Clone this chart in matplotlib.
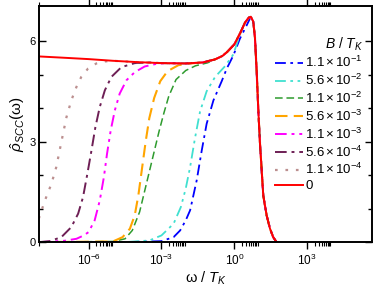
import matplotlib
matplotlib.use("Agg")
import matplotlib.pyplot as plt
import numpy as np
from matplotlib.ticker import FixedLocator, FixedFormatter, NullFormatter

plt.rcParams["font.family"] = ["Liberation Sans", "DejaVu Sans"]
plt.rcParams["mathtext.fontset"] = "custom"
plt.rcParams["mathtext.rm"] = "Liberation Sans"
plt.rcParams["mathtext.it"] = "Liberation Sans:italic"
plt.rcParams["mathtext.bf"] = "Liberation Sans:bold"

# B = 0 curve (log10 of omega / T_K, spectral weight)
red_logw = [-8.05, -7.0, -6.0, -5.0, -4.0, -3.0, -2.0, -1.3, -0.8, -0.5, -0.3,
            0.0, 0.23, 0.44, 0.6, 0.68, 0.78, 0.85, 0.92, 0.99, 1.06, 1.13,
            1.19, 1.33, 1.47, 1.6, 1.74]
red_rho = [5.54, 5.50, 5.46, 5.41, 5.37, 5.34, 5.33, 5.36, 5.45, 5.55, 5.67,
           5.90, 6.22, 6.55, 6.70, 6.72, 6.58, 6.10, 5.10, 3.90, 2.90, 2.10,
           1.40, 0.80, 0.40, 0.15, 0.0]

# finite field curves, low frequency part (they follow B = 0 above)
blue_logw = [-8.05, -4.5, -3.0, -2.5, -2.23, -2.0, -1.82, -1.55, -1.34, -1.14,
             -0.86, -0.52, -0.31, -0.04, 0.23, 0.51, 0.65]
blue_rho = [0.0, 0.0, 0.03, 0.15, 0.35, 0.65, 0.95, 1.84, 2.74, 3.53,
            4.23, 4.80, 5.18, 5.57, 6.07, 6.47, 6.68]

cyan_logw = [-8.05, -4.5, -3.5, -3.0, -2.5, -2.2, -2.0, -1.82, -1.62, -1.41,
             -1.14, -0.79, -0.38, -0.04, 0.23]
cyan_rho = [0.0, 0.0, 0.05, 0.2, 0.55, 1.05, 1.6, 2.24, 3.1, 3.9,
            4.5, 4.93, 5.25, 5.6, 6.2]

green_logw = [-8.05, -5.0, -4.5, -4.2, -3.9, -3.7, -3.5, -3.3, -3.1, -2.9,
              -2.7, -2.4, -2.0, -1.6, -1.1, -0.85]
green_rho = [0.0, 0.02, 0.1, 0.35, 0.9, 1.5, 2.1, 2.7, 3.3, 3.85,
             4.35, 4.85, 5.12, 5.26, 5.35, 5.43]

orange_logw = [-8.05, -5.0, -4.6, -4.3, -4.1, -3.95, -3.8, -3.65, -3.5, -3.3,
               -3.05, -2.75, -2.3, -1.8]
orange_rho = [0.0, 0.02, 0.15, 0.4, 0.8, 1.4, 2.2, 3.0, 3.7, 4.3,
              4.8, 5.1, 5.28, 5.33]

magenta_logw = [-8.05, -7.5, -7.0, -6.5, -6.2, -6.0, -5.75, -5.54, -5.37, -5.24,
                -5.09, -4.92, -4.72, -4.44, -4.1, -3.69, -3.2, -2.8]
magenta_rho = [0.0, 0.02, 0.04, 0.1, 0.2, 0.3, 0.65, 1.24, 1.94, 2.64,
               3.33, 3.93, 4.43, 4.83, 5.07, 5.24, 5.32, 5.34]

purple_logw = [-8.05, -7.6, -7.12, -6.71, -6.43, -6.23, -6.05, -5.88, -5.72,
               -5.54, -5.33, -5.06, -4.65, -4.1, -3.5]
purple_rho = [0.0, 0.03, 0.15, 0.45, 0.85, 1.34, 2.04, 2.74, 3.43,
              4.03, 4.53, 4.93, 5.22, 5.34, 5.36]

brown_logw = [-8.05, -7.8, -7.53, -7.33, -7.19, -7.05, -6.91, -6.71, -6.5,
              -6.3, -6.02, -5.68, -5.33, -5.0]
brown_rho = [0.7, 1.24, 1.74, 2.24, 2.74, 3.24, 3.73, 4.23, 4.63,
             4.93, 5.18, 5.33, 5.39, 5.41]

labels = [r"$1.1\times10^{-1}$", r"$5.6\times10^{-2}$", r"$1.1\times10^{-2}$",
          r"$5.6\times10^{-3}$", r"$1.1\times10^{-3}$", r"$5.6\times10^{-4}$",
          r"$1.1\times10^{-4}$", "0"]

xtick_pos = [1e-6, 1e-3, 1e0, 1e3]
xtick_labels = [r"$10^{-6}$", r"$10^{-3}$", r"$10^{0}$", r"$10^{3}$"]


def with_tail(logw, rho):
    # after the curve joins B = 0, continue along the B = 0 data
    logw = list(logw)
    rho = list(rho)
    for lw, r in zip(red_logw, red_rho):
        if lw > logw[-1]:
            logw.append(lw)
            rho.append(r)
    return 10 ** np.array(logw), np.array(rho)


fig = plt.figure(figsize=(3.74, 2.90), dpi=100)
ax = fig.add_axes([0.104, 0.165, 0.8915, 0.815])

curves = [
    (blue_logw, blue_rho, "#0000ff", (0, (6, 2.5, 1.5, 2.5)), 1.3),
    (cyan_logw, cyan_rho, "#40e0d0", (0, (6, 2.5, 1.5, 2.5, 1.5, 2.5)), 1.3),
    (green_logw, green_rho, "#2e9b2e", (0, (5, 2.5)), 1.1),
    (orange_logw, orange_rho, "#ffa500", (0, (6, 3)), 1.5),
    (magenta_logw, magenta_rho, "#ff00ff", (0, (6, 2.5, 1.5, 2.5, 1.5, 2.5)), 1.4),
    (purple_logw, purple_rho, "#6e1f55", (0, (6, 2.5, 1.5, 2.5)), 1.4),
    (brown_logw, brown_rho, "#bc8f8f", (0, (1.2, 3.5)), 1.6),
]

for (lw_, rho_, color, ls, width), label in zip(curves, labels):
    x, y = with_tail(lw_, rho_)
    ax.plot(x, y, color=color, linestyle=ls, linewidth=width, label=label)

ax.plot(10 ** np.array(red_logw), red_rho, color="#ff0000", linewidth=1.4, label=labels[-1])

# Axes
ax.set_xscale("log")
ax.set_xlim(9e-9, 4.8e5)
ax.set_ylim(0, 7.05)

ax.xaxis.set_major_locator(FixedLocator(xtick_pos))
ax.xaxis.set_major_formatter(FixedFormatter(xtick_labels))
minor = [m * 10.0 ** k for k in (-9, -6, -3, 0, 3) for m in range(2, 10)]
ax.xaxis.set_minor_locator(FixedLocator(minor))
ax.xaxis.set_minor_formatter(NullFormatter())

ax.yaxis.set_major_locator(FixedLocator([0, 3, 6]))
ax.yaxis.set_minor_locator(FixedLocator([1, 2, 4, 5]))

ax.tick_params(axis="x", which="both", direction="out", top=True, bottom=True,
               labelsize=8.5, width=1.0, pad=2.5)
ax.tick_params(axis="x", which="major", length=5)
ax.tick_params(axis="x", which="minor", length=3, width=0.8)
ax.tick_params(axis="y", which="both", direction="in", left=True, right=True,
               labelsize=8, width=1.0, pad=2)
ax.tick_params(axis="y", which="major", length=5)
ax.tick_params(axis="y", which="minor", length=3)

for s in ax.spines.values():
    s.set_linewidth(1.4)

ax.set_xlabel("ω / $T_K$", fontsize=10.5, labelpad=1)
ax.set_ylabel(r"$\hat{\rho}_{SCC}$(ω)", fontsize=11, labelpad=2)

# Legend
leg = ax.legend(loc="upper right", bbox_to_anchor=(1.0, 0.915), frameon=False,
                fontsize=9.5, handlelength=2.1, handletextpad=0.2,
                labelspacing=0.2, borderaxespad=0.3,
                title="$B$ / $T_K$", title_fontsize=10)
leg._legend_box.align = "right"

plt.savefig("out.png", dpi=100)
